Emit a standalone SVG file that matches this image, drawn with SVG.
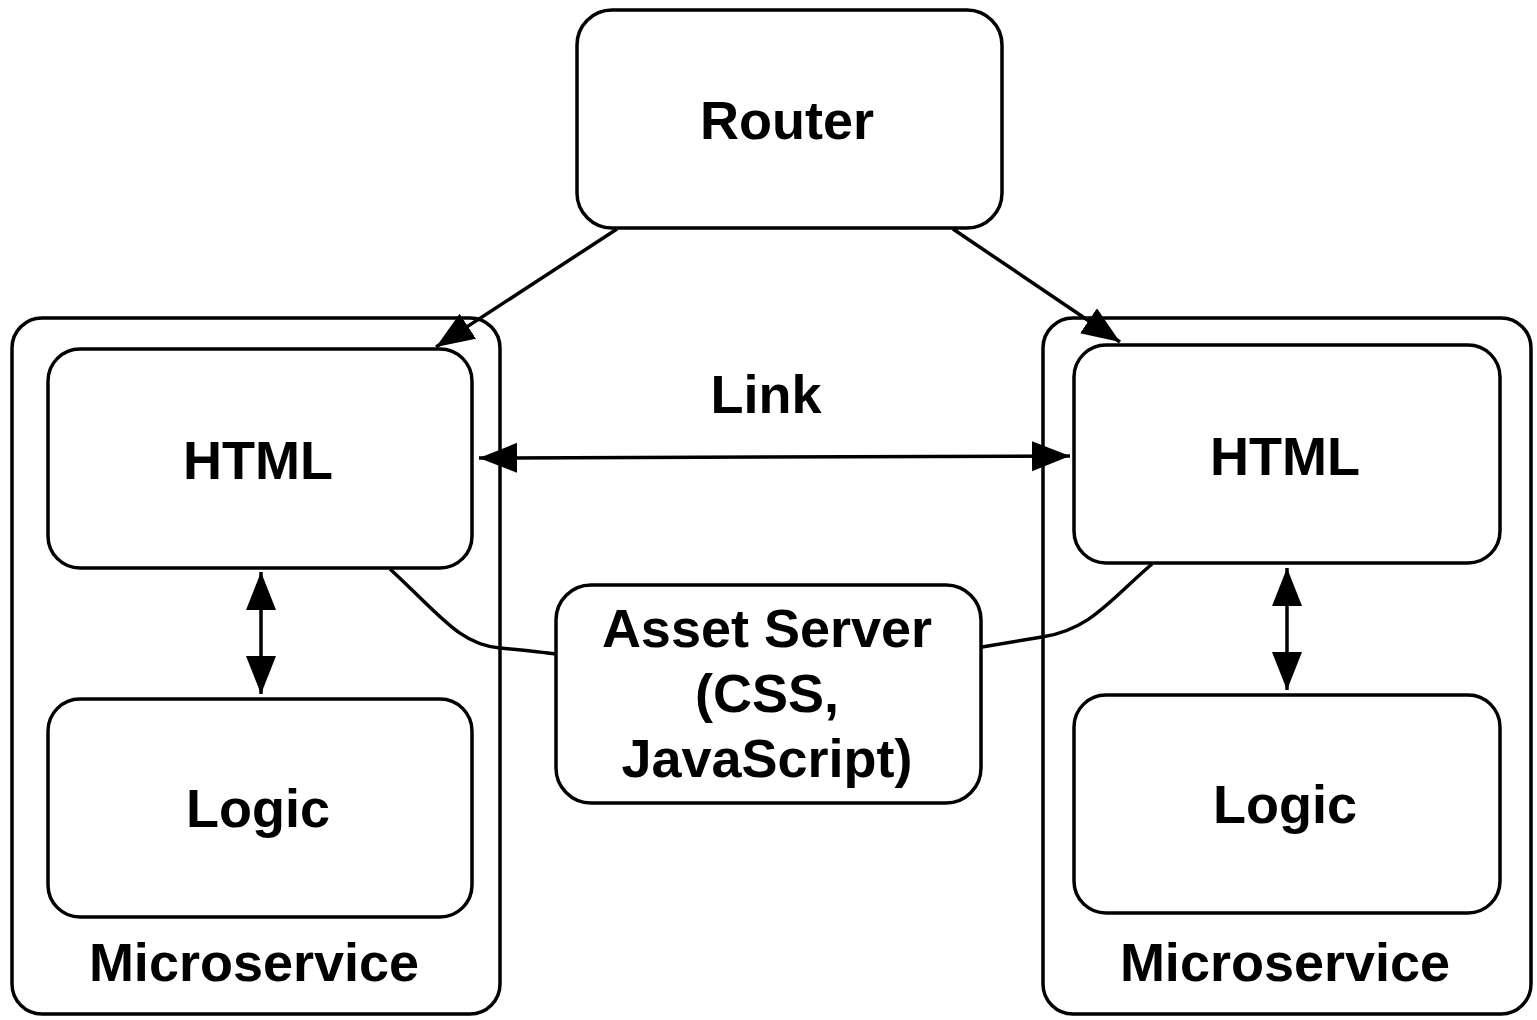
<svg xmlns="http://www.w3.org/2000/svg" width="1537" height="1020" viewBox="0 0 1537 1020">
<style>
.box{fill:#fff;stroke:#000;stroke-width:3.5}
.lbl{font-family:"Liberation Sans",Arial,sans-serif;font-weight:bold;font-size:54px;fill:#000;text-anchor:middle}
.edge{fill:none;stroke:#000;stroke-width:3.5}
</style>
<defs>
<marker id="ah" markerUnits="userSpaceOnUse" markerWidth="40" markerHeight="32" refX="38" refY="15" orient="auto-start-reverse">
<path d="M0,0 L38,15 L0,30 z" fill="#000"/>
</marker>
</defs>
<rect width="1537" height="1020" fill="#fff"/>
<g id="ms-left">
<rect class="box" x="12" y="318" width="488" height="696" rx="30"/>
<text class="lbl" x="254" y="981">Microservice</text>
</g>
<g id="ms-right">
<rect class="box" x="1043" y="318" width="488" height="696" rx="30"/>
<text class="lbl" x="1285" y="981">Microservice</text>
</g>
<g id="router">
<rect class="box" x="577" y="10" width="425" height="218" rx="35"/>
<text class="lbl" x="787" y="139">Router</text>
</g>
<g id="html-left">
<rect class="box" x="48" y="349" width="424" height="219" rx="32"/>
<text class="lbl" x="258" y="479">HTML</text>
</g>
<g id="logic-left">
<rect class="box" x="48" y="699" width="424" height="218" rx="32"/>
<text class="lbl" x="258" y="827">Logic</text>
</g>
<g id="html-right">
<rect class="box" x="1074" y="345" width="426" height="218" rx="32"/>
<text class="lbl" x="1285" y="475">HTML</text>
</g>
<g id="logic-right">
<rect class="box" x="1074" y="695" width="426" height="218" rx="32"/>
<text class="lbl" x="1285" y="823">Logic</text>
</g>
<g id="asset">
<rect class="box" x="556" y="585" width="425" height="218" rx="35"/>
<text class="lbl" x="767" y="647">Asset Server</text>
<text class="lbl" x="767" y="712">(CSS,</text>
<text class="lbl" x="767" y="777">JavaScript)</text>
</g>
<g id="connectors">
<line class="edge" x1="617" y1="229" x2="436" y2="347" marker-end="url(#ah)"/>
<line class="edge" x1="953" y1="229" x2="1120" y2="342" marker-end="url(#ah)"/>
<line class="edge" x1="479" y1="458" x2="1070" y2="456" marker-start="url(#ah)" marker-end="url(#ah)"/>
<line class="edge" x1="261" y1="572" x2="261" y2="694" marker-start="url(#ah)" marker-end="url(#ah)"/>
<line class="edge" x1="1287" y1="568" x2="1287" y2="690" marker-start="url(#ah)" marker-end="url(#ah)"/>
<path class="edge" d="M390,569 C440,615 460,645 500,648 C520,650 540,652 556,654"/>
<path class="edge" d="M1152,564 C1110,600 1090,630 1042,637 L982,647"/>
<text class="lbl" x="766" y="413">Link</text>
</g>
</svg>
